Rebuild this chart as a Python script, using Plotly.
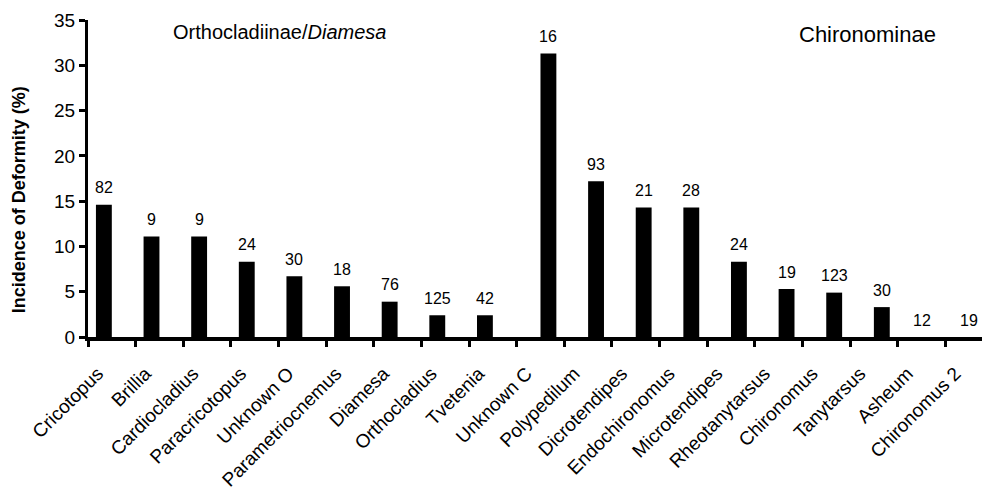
import plotly.graph_objects as go

# Incidence of mentum deformity (%) by taxon, with number of larvae examined (n)
ortho_taxa = ["Cricotopus", "Brillia", "Cardiocladius", "Paracricotopus", "Unknown O",
              "Parametriocnemus", "Diamesa", "Orthocladius", "Tvetenia"]
ortho_pct = [14.6, 11.1, 11.1, 8.3, 6.7, 5.6, 3.9, 2.4, 2.4]
ortho_n = [82, 9, 9, 24, 30, 18, 76, 125, 42]

chiro_taxa = ["Unknown C", "Polypedilum", "Dicrotendipes", "Endochironomus", "Microtendipes",
              "Rheotanytarsus", "Chironomus", "Tanytarsus", "Asheum", "Chironomus 2"]
chiro_pct = [31.3, 17.2, 14.3, 14.3, 8.3, 5.3, 4.9, 3.3, 0.0, 0.0]
chiro_n = [16, 93, 21, 28, 24, 19, 123, 30, 12, 19]

y_ticks = [0, 5, 10, 15, 20, 25, 30, 35]

FONT = "Arial, Liberation Sans, sans-serif"
all_taxa = ortho_taxa + chiro_taxa
BAR_W = 1 / 3  # each series takes a third of a category slot

fig = go.Figure()
# Orthocladiinae bars sit in the left half of each slot, Chironominae in the right half
fig.add_trace(go.Bar(x=ortho_taxa, y=ortho_pct, name="Orthocladiinae/Diamesa",
                     width=BAR_W, offset=-BAR_W,
                     marker=dict(color="black", line=dict(width=0))))
fig.add_trace(go.Bar(x=chiro_taxa, y=chiro_pct, name="Chironominae",
                     width=BAR_W, offset=0,
                     marker=dict(color="black", line=dict(width=0))))

# sample-size labels above each bar
annotations = []
for taxa, pct, ns, side in [(ortho_taxa, ortho_pct, ortho_n, -1),
                            (chiro_taxa, chiro_pct, chiro_n, 1)]:
    for name, v, n in zip(taxa, pct, ns):
        idx = all_taxa.index(name)
        xpos = idx + side * BAR_W / 2 if v > 0 else idx
        annotations.append(dict(x=xpos, y=v, xref="x", yref="y", text=str(n),
                                showarrow=False, yanchor="middle", yshift=17,
                                font=dict(family=FONT, size=16, color="black")))

annotations += [
    dict(x=0.214, y=0.962, xref="paper", yref="paper", text="Orthocladiinae/<i>Diamesa</i>",
         showarrow=False, xanchor="center", yanchor="middle",
         font=dict(family=FONT, size=20, color="black")),
    dict(x=0.872, y=0.953, xref="paper", yref="paper", text="Chironominae",
         showarrow=False, xanchor="center", yanchor="middle",
         font=dict(family=FONT, size=22, color="black")),
    dict(x=-0.077, y=0.432, xref="paper", yref="paper", text="<b>Incidence of Deformity (%)</b>",
         showarrow=False, textangle=-90, xanchor="center", yanchor="middle",
         font=dict(family=FONT, size=18, color="black")),
]

fig.update_layout(
    width=982, height=489,
    margin=dict(l=88, r=0, t=20, b=152),
    paper_bgcolor="white", plot_bgcolor="white",
    barmode="overlay",
    showlegend=False,
    annotations=annotations,
    font=dict(family=FONT, color="black"),
)
fig.update_xaxes(
    type="category", categoryorder="array", categoryarray=all_taxa,
    range=[-0.5, 18.27], tickson="boundaries", automargin=False,
    ticks="outside", ticklen=6, tickwidth=3, tickcolor="black",
    showline=True, linewidth=4, linecolor="black",
    showgrid=False, zeroline=False,
    tickangle=-45, tickfont=dict(family=FONT, size=19, color="black"),
    ticklabelstandoff=14, ticklabelshift=-14,
)
fig.update_yaxes(
    range=[0, 35], tickvals=y_ticks, automargin=False,
    ticks="outside", ticklen=6, tickwidth=3, tickcolor="black",
    showline=True, linewidth=3, linecolor="black",
    showgrid=False, zeroline=False,
    tickfont=dict(family=FONT, size=19, color="black"),
)

fig.write_html("out.html")
